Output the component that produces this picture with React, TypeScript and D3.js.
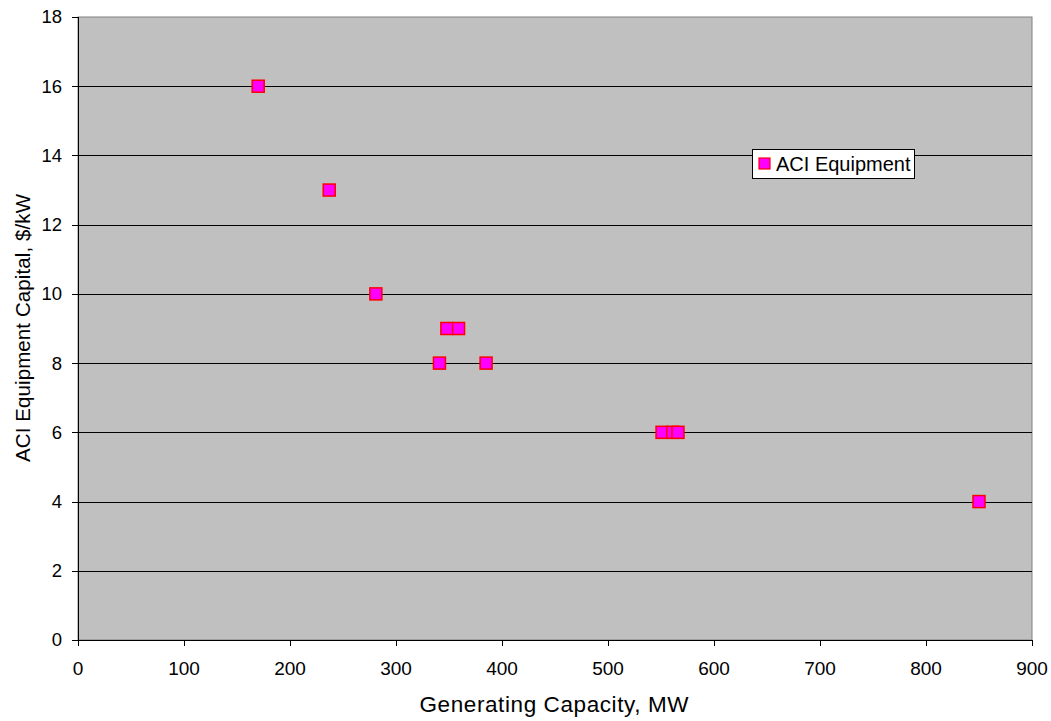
import React from "react";
import * as d3 from "d3";

const capacityMW = [170, 237, 281, 341, 348, 359, 385, 551, 561, 566, 850];
const capitalPerKW = [16, 13, 10, 8, 9, 9, 8, 6, 6, 6, 4];
const xTicks = [0, 100, 200, 300, 400, 500, 600, 700, 800, 900];
const yTicks = [0, 2, 4, 6, 8, 10, 12, 14, 16, 18];
const seriesName = "ACI Equipment";

const W = 1051;
const H = 721;
const M = { left: 78, right: 1032, top: 17, bottom: 640 };
const font = "'Liberation Sans', Arial, sans-serif";

export default function App() {
  const x = d3.scaleLinear().domain([0, 900]).range([M.left, M.right]);
  const y = d3.scaleLinear().domain([0, 18]).range([M.bottom, M.top]);
  const ms = 12;

  return (
    <svg
      width={W}
      height={H}
      style={{ position: "absolute", left: 0, top: 0, background: "#fff" }}
      fontFamily={font}
    >
      <rect x={M.left} y={M.top} width={M.right - M.left} height={M.bottom - M.top} fill="#c0c0c0" stroke="#808080" strokeWidth={1} />
      {yTicks.filter((t) => t > 0 && t < 18).map((t) => (
        <line key={t} x1={M.left} x2={M.right} y1={Math.round(y(t)) + 0.5} y2={Math.round(y(t)) + 0.5} stroke="#000" strokeWidth={1} />
      ))}
      {/* axes */}
      <line x1={M.left + 0.5} x2={M.left + 0.5} y1={M.top} y2={M.bottom} stroke="#000" />
      <line x1={M.left} x2={M.right} y1={M.bottom + 0.5} y2={M.bottom + 0.5} stroke="#000" />
      {yTicks.map((t) => (
        <g key={t}>
          <line x1={M.left - 6} x2={M.left} y1={Math.round(y(t)) + 0.5} y2={Math.round(y(t)) + 0.5} stroke="#000" />
          <text x={62} y={y(t)} dy="0.35em" textAnchor="end" fontSize={18.5} fill="#000">{t}</text>
        </g>
      ))}
      {xTicks.map((t) => (
        <g key={t}>
          <line x1={Math.round(x(t)) + 0.5} x2={Math.round(x(t)) + 0.5} y1={M.bottom} y2={M.bottom + 6} stroke="#000" />
          <text x={x(t)} y={675} textAnchor="middle" fontSize={19} fill="#000">{t}</text>
        </g>
      ))}
      <text x={(M.left + M.right) / 2 - 1} y={712} textAnchor="middle" fontSize={22.5} textLength={269} lengthAdjust="spacing" fill="#000">Generating Capacity, MW</text>
      <text transform={`translate(30,328) rotate(-90)`} textAnchor="middle" fontSize={20.5} textLength={268} lengthAdjust="spacing" fill="#000">ACI Equipment Capital, $/kW</text>
      {capacityMW.map((c, i) => (
        <rect key={i} x={x(c) - ms / 2} y={y(capitalPerKW[i]) - ms / 2} width={ms} height={ms} fill="#ff00ff" stroke="#ff0000" strokeWidth={1.5} />
      ))}
      {/* legend */}
      <rect x={752.5} y={149.5} width={162} height={29} fill="#fff" stroke="#000" strokeWidth={1} />
      <rect x={759} y={158} width={11} height={11} fill="#ff00ff" stroke="#ff0000" strokeWidth={1.2} />
      <text x={776} y={171} fontSize={20} fill="#000">{seriesName}</text>
    </svg>
  );
}
